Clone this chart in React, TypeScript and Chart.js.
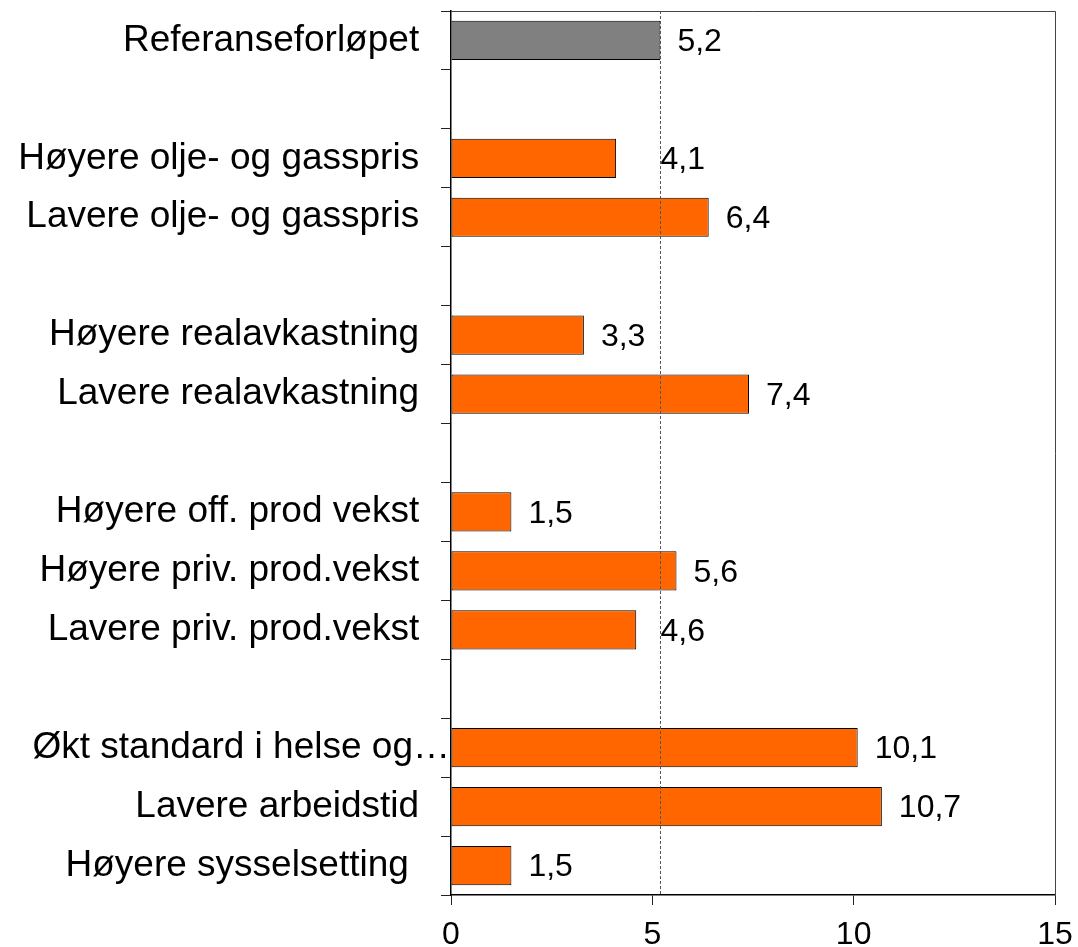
import React, { useEffect, useRef } from "react";
import { Chart, registerables } from "chart.js";

Chart.register(...registerables);

const categories: string[] = [
  "Referanseforløpet   ",
  "",
  "Høyere olje- og gasspris   ",
  "Lavere olje- og gasspris   ",
  "",
  "Høyere realavkastning   ",
  "Lavere realavkastning   ",
  "",
  "Høyere off. prod vekst   ",
  "Høyere priv. prod.vekst   ",
  "Lavere priv. prod.vekst   ",
  "",
  "Økt standard i helse og…",
  "Lavere arbeidstid   ",
  "Høyere sysselsetting    ",
];

const values: (number | null)[] = [
  5.2, null, 4.1, 6.4, null, 3.3, 7.4, null, 1.5, 5.6, 4.6, null, 10.1, 10.7, 1.5,
];

const isReference: boolean[] = [
  true, false, false, false, false, false, false, false, false, false, false, false, false, false, false,
];

const xTicks: number[] = [0, 5, 10, 15];
const referenceValue = 5.2;

const FONT = "'Liberation Sans', Arial, sans-serif";

const overlayPlugin = {
  id: "overlay",
  afterDatasetsDraw(chart: any) {
    const { ctx, chartArea, scales } = chart;
    const xs = scales.x;
    const lineX = Math.round(xs.getPixelForValue(referenceValue)) + 0.5;

    ctx.save();
    ctx.strokeStyle = "#444";
    ctx.lineWidth = 1;
    ctx.beginPath();
    ctx.moveTo(chartArea.left, Math.round(chartArea.top) + 0.5);
    ctx.lineTo(Math.round(chartArea.right) + 0.5, Math.round(chartArea.top) + 0.5);
    ctx.lineTo(Math.round(chartArea.right) + 0.5, chartArea.bottom);
    ctx.stroke();

    ctx.strokeStyle = "#555";
    ctx.setLineDash([3, 2]);
    ctx.beginPath();
    ctx.moveTo(lineX, chartArea.top);
    ctx.lineTo(lineX, chartArea.bottom);
    ctx.stroke();
    ctx.setLineDash([]);

    const meta = chart.getDatasetMeta(0);
    ctx.font = `32px ${FONT}`;
    ctx.fillStyle = "#000";
    ctx.textAlign = "left";
    ctx.textBaseline = "middle";
    meta.data.forEach((bar: any, i: number) => {
      const v = values[i];
      if (v === null || v === undefined) return;
      const text = v.toFixed(1).replace(".", ",");
      const w = ctx.measureText(text).width;
      let x = bar.x + 17;
      if (x < lineX && x + w > lineX) x = lineX;
      ctx.fillText(text, x, bar.y + 2);
    });
    ctx.restore();
  },
};

export default function App() {
  const canvasRef = useRef<HTMLCanvasElement | null>(null);

  useEffect(() => {
    if (!canvasRef.current) return;
    const chart = new Chart(canvasRef.current, {
      type: "bar",
      data: {
        labels: categories,
        datasets: [
          {
            data: values as any,
            backgroundColor: isReference.map((r) => (r ? "#808080" : "#FF6600")),
            borderColor: "#000",
            borderWidth: 1,
            borderSkipped: false,
            categoryPercentage: 1,
            barPercentage: 0.665,
          },
        ],
      },
      options: {
        indexAxis: "y",
        animation: false,
        responsive: true,
        maintainAspectRatio: false,
        layout: { padding: { top: 11, right: 23, left: 0, bottom: 0 } },
        plugins: {
          legend: { display: false },
          tooltip: { enabled: false },
        },
        scales: {
          y: {
            type: "category",
            offset: true,
            grid: {
              display: true,
              drawOnChartArea: false,
              drawTicks: true,
              tickLength: 10,
              color: "#222",
              lineWidth: 1,
              offset: true,
            },
            border: { display: true, color: "#000", width: 1.5 },
            ticks: {
              padding: -9,
              color: "#000",
              font: { family: FONT, size: 37 },
              autoSkip: false,
            },
            afterFit: (scale: any) => {
              scale.width = 451;
              scale.paddingTop = 0;
              scale.paddingBottom = 0;
            },
          },
          x: {
            type: "linear",
            min: 0,
            max: 15,
            afterBuildTicks: (scale: any) => {
              scale.ticks = xTicks.map((v) => ({ value: v }));
            },
            grid: {
              display: true,
              drawOnChartArea: false,
              drawTicks: true,
              tickLength: 10,
              color: "#222",
              lineWidth: 1,
            },
            border: { display: true, color: "#000", width: 1.5 },
            ticks: {
              padding: 11,
              color: "#000",
              font: { family: FONT, size: 32 },
              maxRotation: 0,
            },
            afterFit: (scale: any) => {
              scale.height = 52;
              scale.paddingLeft = 0;
              scale.paddingRight = 0;
            },
          },
        },
      },
      plugins: [overlayPlugin],
    });
    return () => chart.destroy();
  }, []);

  return (
    <div style={{ position: "absolute", left: 0, top: 0, width: 1078, height: 947 }}>
      <canvas ref={canvasRef} />
    </div>
  );
}
